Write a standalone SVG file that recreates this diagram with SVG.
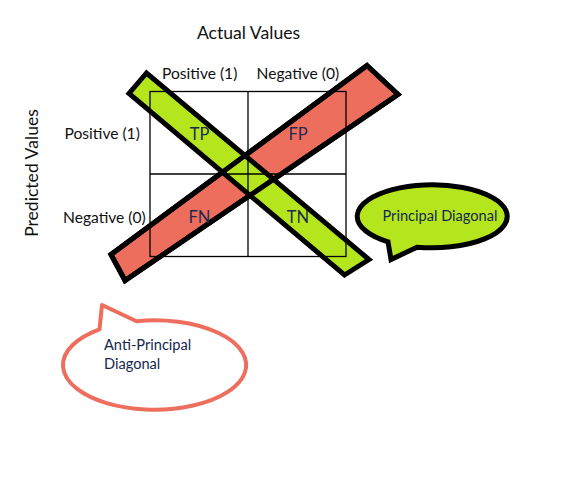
<svg xmlns="http://www.w3.org/2000/svg" width="570" height="493" viewBox="0 0 570 493">
  <style>
    text { font-family: Lato, "Open Sans", "Liberation Sans", sans-serif; }
    .axis { font-size: 17.6px; fill: #111; }
    .lbl { font-size: 15.6px; fill: #111; }
    .cell { font-size: 16.5px; fill: #1c2a52; text-anchor: middle; }
    .note { font-size: 14.6px; fill: #14284e; }
    .band { stroke: #000; stroke-width: 5; stroke-linejoin: miter; }
    .edge { fill: none; stroke: #000; stroke-width: 5; stroke-linejoin: miter; }
    .grid { fill: none; stroke: #000; stroke-width: 1.3; }
  </style>

  <rect width="570" height="493" fill="#fff"/>

  <!-- diagonal bands crossing the matrix -->
  <g id="bands">
    <polygon id="anti-band" class="band" fill="#ee6e5e" points="367,65.5 398,94.5 125,280.5 111,254.5"/>
    <polygon id="principal-band" class="band" fill="#b5e61d" points="146.5,73 129,93.5 344.5,275 369,259.5"/>
    <polygon class="edge" points="367,65.5 398,94.5 125,280.5 111,254.5"/>
  </g>

  <!-- 2x2 confusion matrix grid -->
  <g id="matrix" class="grid">
    <rect x="150" y="91.5" width="196" height="165"/>
    <line x1="248" y1="91.5" x2="248" y2="256.5"/>
    <line x1="150" y1="174" x2="346" y2="174"/>
  </g>

  <!-- axis titles and headers -->
  <g id="headers">
    <text class="axis" x="248.5" y="38.5" text-anchor="middle">Actual Values</text>
    <text class="axis" transform="translate(37.5,173) rotate(-90)" text-anchor="middle">Predicted Values</text>
    <text class="lbl" x="162" y="79">Positive (1)</text>
    <text class="lbl" x="256.5" y="78.5">Negative (0)</text>
    <text class="lbl" x="64.5" y="139">Positive (1)</text>
    <text class="lbl" x="63" y="222.5">Negative (0)</text>
  </g>

  <!-- cell labels -->
  <g id="cells">
    <text id="tp" class="cell" x="199.5" y="139.5">TP</text>
    <text id="fp" class="cell" x="298" y="139.5">FP</text>
    <text id="fn" class="cell" x="199.5" y="223">FN</text>
    <text id="tn" class="cell" x="298" y="223">TN</text>
  </g>

  <!-- callout for the principal diagonal: ellipse centred at (434,216.5) with a tail -->
  <g id="principal-callout">
    <path d="M 388,241.8 L 391,259.5 L 417,247.2 A 75 31.5 0 1 0 388,241.8 Z" fill="#b5e61d" stroke="#000" stroke-width="5" stroke-linejoin="miter"/>
    <text class="note" x="382.5" y="220.5">Principal Diagonal</text>
  </g>

  <!-- callout for the anti-principal diagonal: ellipse centred at (154.7,365) with a tail -->
  <g id="anti-callout">
    <path d="M 99.5,329.3 L 102,305 L 136.5,321.2 A 91.6 44.7 0 1 1 99.5,329.3 Z" fill="#fff" stroke="#ee6e5e" stroke-width="4" stroke-linejoin="round"/>
    <text class="note" x="104" y="350">Anti-Principal</text>
    <text class="note" x="104" y="369">Diagonal</text>
  </g>
</svg>
